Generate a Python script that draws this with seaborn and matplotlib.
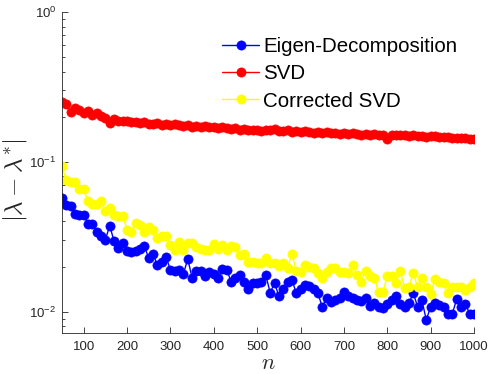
import matplotlib
matplotlib.use("Agg")
import numpy as np
import pandas as pd
import seaborn as sns
import matplotlib.pyplot as plt
from matplotlib.ticker import LogLocator, NullFormatter, FixedLocator, FixedFormatter

# ---------------- data ----------------
n_values = list(range(50, 1001, 10))

eigen = [0.0570, 0.0518, 0.0504, 0.0449, 0.0439, 0.0443, 0.0385, 0.0385, 0.0340, 0.0318,
         0.0302, 0.0375, 0.0296, 0.0266, 0.0286, 0.0255, 0.0251, 0.0253, 0.0263, 0.0273,
         0.0228, 0.0243, 0.0204, 0.0214, 0.0232, 0.0190, 0.0187, 0.0190, 0.0179, 0.0225,
         0.0168, 0.0188, 0.0188, 0.0174, 0.0185, 0.0179, 0.0168, 0.0192, 0.0190, 0.0159,
         0.0168, 0.0176, 0.0159, 0.0142, 0.0156, 0.0156, 0.0159, 0.0175, 0.0134, 0.0155,
         0.0128, 0.0141, 0.0159, 0.0163, 0.0134, 0.0142, 0.0151, 0.0148, 0.0141, 0.0133,
         0.0108, 0.0123, 0.0116, 0.0119, 0.0123, 0.0136, 0.0127, 0.0123, 0.0119, 0.0117,
         0.0123, 0.0109, 0.0114, 0.0108, 0.0106, 0.0113, 0.0119, 0.0128, 0.0113, 0.0108,
         0.0114, 0.0133, 0.0108, 0.0119, 0.0088, 0.0108, 0.0114, 0.0111, 0.0108, 0.0097,
         0.0097, 0.0121, 0.0108, 0.0113, 0.0097, 0.0097]

svd = [0.250, 0.242, 0.216, 0.228, 0.222, 0.212, 0.220, 0.206, 0.213, 0.203,
       0.197, 0.181, 0.192, 0.188, 0.186, 0.186, 0.184, 0.185, 0.182, 0.184,
       0.180, 0.178, 0.181, 0.177, 0.178, 0.176, 0.179, 0.175, 0.174, 0.176,
       0.172, 0.173, 0.171, 0.174, 0.170, 0.171, 0.168, 0.170, 0.167, 0.166,
       0.168, 0.164, 0.166, 0.162, 0.163, 0.164, 0.161, 0.162, 0.163, 0.165,
       0.161, 0.160, 0.162, 0.159, 0.161, 0.158, 0.160, 0.159, 0.156, 0.158,
       0.155, 0.157, 0.156, 0.155, 0.153, 0.155, 0.154, 0.156, 0.153, 0.152,
       0.154, 0.151, 0.153, 0.150, 0.152, 0.143, 0.151, 0.152, 0.150, 0.151,
       0.149, 0.150, 0.148, 0.149, 0.147, 0.148, 0.149, 0.146, 0.147, 0.146,
       0.145, 0.144, 0.145, 0.144, 0.143, 0.143]

corrected = [0.0933, 0.0761, 0.0733, 0.0733, 0.0662, 0.0654, 0.0545, 0.0524, 0.0524, 0.0550,
             0.0472, 0.0491, 0.0444, 0.0433, 0.0437, 0.0352, 0.0340, 0.0391, 0.0377, 0.0340,
             0.0370, 0.0352, 0.0310, 0.0319, 0.0321, 0.0280, 0.0259, 0.0294, 0.0257, 0.0289,
             0.0289, 0.0272, 0.0262, 0.0259, 0.0259, 0.0282, 0.0262, 0.0280, 0.0257, 0.0276,
             0.0272, 0.0240, 0.0244, 0.0216, 0.0216, 0.0213, 0.0213, 0.0228, 0.0211, 0.0211,
             0.0203, 0.0211, 0.0196, 0.0244, 0.0188, 0.0183, 0.0206, 0.0198, 0.0196, 0.0181,
             0.0168, 0.0183, 0.0196, 0.0196, 0.0183, 0.0185, 0.0181, 0.0206, 0.0176, 0.0159,
             0.0188, 0.0172, 0.0169, 0.0135, 0.0136, 0.0172, 0.0174, 0.0155, 0.0188, 0.0144,
             0.0147, 0.0181, 0.0146, 0.0169, 0.0146, 0.0131, 0.0165, 0.0157, 0.0155, 0.0133,
             0.0147, 0.0147, 0.0147, 0.0140, 0.0146, 0.0155]

series_labels = ["Eigen-Decomposition", "SVD", "Corrected SVD"]
series_colors = ["#0000ff", "#ff0000", "#ffff00"]
x_ticks = [100, 200, 300, 400, 500, 600, 700, 800, 900, 1000]
y_ticks = [1e-2, 1e-1, 1e0]
y_tick_labels = [r"$\mathregular{10^{-2}}$", r"$\mathregular{10^{-1}}$", r"$\mathregular{10^{0}}$"]

# ---------------- plot ----------------
sns.set_theme(style="ticks")
plt.rcParams["font.family"] = ["Liberation Sans", "DejaVu Sans"]
plt.rcParams["mathtext.fontset"] = "cm"

df = pd.DataFrame({
    "n": n_values * 3,
    "err": eigen + svd + corrected,
    "method": [lab for lab in series_labels for _ in n_values],
})

fig = plt.figure(figsize=(4.88, 3.74), dpi=100)
ax = fig.add_axes([62 / 488, 1 - 333 / 374, 412 / 488, 321 / 374])

for lab, col in zip(series_labels, series_colors):
    sub = df[df["method"] == lab]
    sns.lineplot(data=sub, x="n", y="err", color=col, marker="o", markersize=6.6,
                 markeredgecolor=col, markeredgewidth=0.5, linewidth=1.0,
                 label=lab, ax=ax, errorbar=None)

ax.set_yscale("log")
ax.set_xlim(50, 1000)
ax.set_ylim(0.00721, 1.0)
ax.xaxis.set_major_locator(FixedLocator(x_ticks))
ax.yaxis.set_major_locator(FixedLocator(y_ticks))
ax.yaxis.set_major_formatter(FixedFormatter(y_tick_labels))
ax.yaxis.set_minor_locator(LogLocator(base=10, subs=np.arange(2, 10)))
ax.yaxis.set_minor_formatter(NullFormatter())

gray = "#262626"
for side in ["top", "right"]:
    ax.spines[side].set_visible(False)
for side in ["left", "bottom"]:
    ax.spines[side].set_color(gray)
    ax.spines[side].set_linewidth(0.6)
ax.tick_params(which="major", direction="in", length=4, width=0.6, colors=gray,
               labelsize=9.5, pad=4)
ax.tick_params(which="minor", direction="in", length=2.5, width=0.6, colors=gray)
ax.tick_params(axis="x", which="major", pad=6)

ax.set_xlabel(r"$n$", fontsize=16, color=gray, labelpad=0)
ax.set_ylabel(r"$|\lambda-\lambda^{*}|$", fontsize=18, color=gray, labelpad=0)
ax.yaxis.label.set_y(0.475)

leg = ax.legend(loc="upper left", bbox_to_anchor=(214 / 488, 1 - 29 / 374),
                bbox_transform=fig.transFigure, frameon=False,
                fontsize=14.8, handlelength=1.8, handletextpad=0.2, labelspacing=0.4,
                borderpad=0.4, borderaxespad=0)
for t in leg.get_texts():
    t.set_color("black")

fig.savefig("out.png", dpi=100)
